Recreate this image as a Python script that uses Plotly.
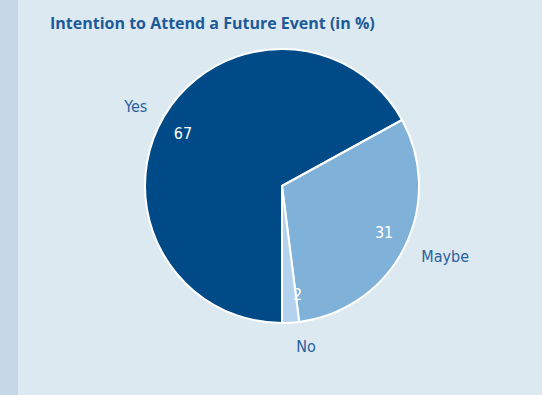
import plotly.graph_objects as go

# Survey answers and their shares (percent)
answers = ["Yes", "Maybe", "No"]
shares = [67, 31, 2]
slice_colors = ["#004b87", "#80b1d9", "#b3d2ee"]

W, H = 542, 395
bg_main = "#dce9f1"
bg_strip = "#c6d8e8"
label_color = "#2b609c"
cx, cy = 282, 186  # pie centre in pixels
label_font = "DejaVu Sans Condensed, Roboto, sans-serif"


def domain_for(radius):
    return dict(x=[(cx - radius) / W, (cx + radius) / W],
                y=[1 - (cy + radius) / H, 1 - (cy - radius) / H])


common = dict(labels=answers, values=shares, sort=False,
              direction="clockwise", rotation=180, showlegend=False)
clear = ["rgba(0,0,0,0)"] * len(answers)

# Coloured slices
fig = go.Figure()
fig.add_trace(go.Pie(
    **common,
    marker=dict(colors=slice_colors, line=dict(color="white", width=2)),
    textinfo="none",
    domain=domain_for(137),
    hoverinfo="label+value",
))

# Percentages, set on a smaller transparent ring so they sit near the rim
fig.add_trace(go.Pie(
    **common,
    marker=dict(colors=clear, line=dict(width=0)),
    textinfo="value",
    textposition="outside",
    outsidetextfont=dict(color="white", size=16, family=label_font),
    domain=domain_for(99),
    hoverinfo="skip",
))

# Category names outside the pie
fig.add_trace(go.Pie(
    **common,
    marker=dict(colors=clear, line=dict(width=0)),
    textinfo="label",
    textposition="outside",
    outsidetextfont=dict(color=label_color, size=16, family=label_font),
    domain=domain_for(151),
    hoverinfo="skip",
))

fig.update_layout(
    width=W,
    height=H,
    margin=dict(l=0, r=0, t=0, b=0),
    paper_bgcolor=bg_strip,
    shapes=[dict(
        type="rect", xref="paper", yref="paper",
        x0=18 / W, x1=1, y0=0, y1=1,
        fillcolor=bg_main, line=dict(width=0), layer="below",
    )],
    title=dict(
        text="<b>Intention to Attend a Future Event (in %)</b>",
        x=50 / W, xanchor="left",
        y=1 - 23 / H, yanchor="middle",
        font=dict(family="Open Sans", size=16, color="#1d5a98"),
    ),
)

fig.write_html("out.html")
